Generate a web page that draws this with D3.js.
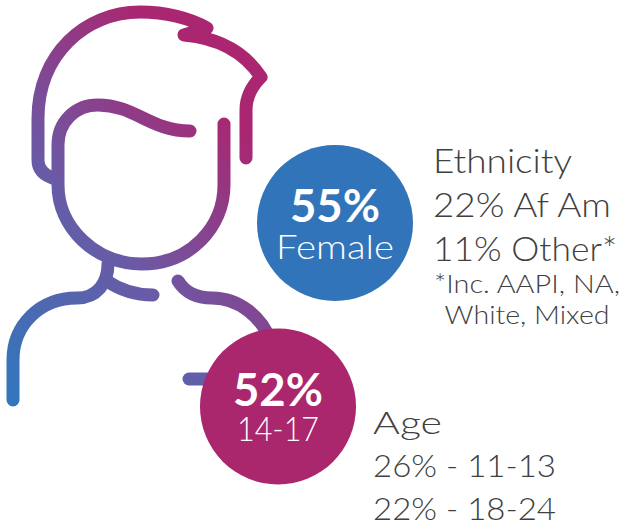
<!DOCTYPE html>
<html>
<head>
<meta charset="utf-8">
<script src="https://cdn.jsdelivr.net/npm/d3@7"></script>
<style>
  html, body { margin: 0; padding: 0; background: #fff; }
  text { font-family: Lato, "Open Sans", sans-serif; }
</style>
</head>
<body>
<svg id="chart" width="622" height="527"></svg>
<script>
const bubbleValues = ['55%', '52%'];
const bubbleLabels = ['Female', '14-17'];
const ethnicityLines = ['Ethnicity', '22% Af Am', '11% Other*'];
const ethnicityNotes = ['*Inc. AAPI, NA,', 'White, Mixed'];
const ageLines = ['Age', '26% - 11-13', '22% - 18-24'];

const svg = d3.select('#chart');
const textGrey = '#404040';

const defs = svg.append('defs');
const grad = defs.append('linearGradient')
  .attr('id', 'personGrad')
  .attr('gradientUnits', 'userSpaceOnUse')
  .attr('x1', 13).attr('y1', 400)
  .attr('x2', 276).attr('y2', 164);
grad.append('stop').attr('offset', '0%').attr('stop-color', '#3276bb');
grad.append('stop').attr('offset', '50%').attr('stop-color', '#6a5aa6');
grad.append('stop').attr('offset', '100%').attr('stop-color', '#aa2670');

// person outline
const personPaths = [
  'M246,158 L246,110 C246,97 252,86 261,77 C245,53 220,38 184,35 L207,28 C190,18 165,12 140,12 C85,12 38,55 38,118 L38,160 C38,170 45,176 56,179',
  'M190,131 C150,131 135,105 98,105 C75,105 58,122 58,145 L58,185 C58,227 95,264 142,264 C190,264 224,227 224,185 L224,124',
  'M108,264 C108,283 97,298 77,298 C40,298 13,325 13,360 L13,400',
  'M153,295 C135,295 120,290 107,281',
  'M178,281 C185,292 195,298 212,298 C240,298 262,318 270,340',
  'M189,379 L220,379'
];

svg.append('g')
  .selectAll('path')
  .data(personPaths)
  .join('path')
  .attr('d', d => d)
  .attr('fill', 'none')
  .attr('stroke', 'url(#personGrad)')
  .attr('stroke-width', 13)
  .attr('stroke-linecap', 'round')
  .attr('stroke-linejoin', 'round');

// bubbles
const bubbleX = [335, 278];
const bubbleY = [223, 406.5];
const bubbleColors = ['#3174ba', '#aa266d'];
const bubbleValueWidth = [90, 90];
const bubbleLabelWidth = [118, 82];

const bubble = svg.append('g')
  .selectAll('g')
  .data(bubbleValues)
  .join('g')
  .attr('transform', (d, i) => 'translate(' + bubbleX[i] + ',' + bubbleY[i] + ')');

bubble.append('circle')
  .attr('r', 78)
  .attr('fill', (d, i) => bubbleColors[i]);

bubble.append('text')
  .attr('text-anchor', 'middle')
  .attr('y', -1)
  .attr('fill', '#fff')
  .attr('font-size', 46)
  .attr('font-weight', 700)
  .attr('textLength', (d, i) => bubbleValueWidth[i])
  .attr('lengthAdjust', 'spacingAndGlyphs')
  .text(d => d);

bubble.append('text')
  .attr('text-anchor', 'middle')
  .attr('y', (d, i) => i === 0 ? 36 : 34)
  .attr('fill', '#fff')
  .attr('font-size', 33)
  .attr('font-weight', 300)
  .attr('textLength', (d, i) => bubbleLabelWidth[i])
  .attr('lengthAdjust', 'spacingAndGlyphs')
  .text((d, i) => bubbleLabels[i]);

// text blocks at the right
function addLines(lines, x, ys, widths, size, anchor) {
  svg.append('g')
    .selectAll('text')
    .data(lines)
    .join('text')
    .attr('x', x)
    .attr('y', (d, i) => ys[i])
    .attr('fill', textGrey)
    .attr('font-size', size)
    .attr('font-weight', 300)
    .attr('text-anchor', anchor)
    .attr('textLength', (d, i) => widths[i])
    .attr('lengthAdjust', 'spacingAndGlyphs')
    .text(d => d);
}

addLines(ethnicityLines, 433, [173, 217, 261], [139, 178, 184], 34, 'start');
addLines(ethnicityNotes, 527, [293, 324], [186, 165], 26, 'middle');
addLines(ageLines, 373, [434, 477, 520], [69, 183, 183], 32, 'start');
</script>
</body>
</html>
